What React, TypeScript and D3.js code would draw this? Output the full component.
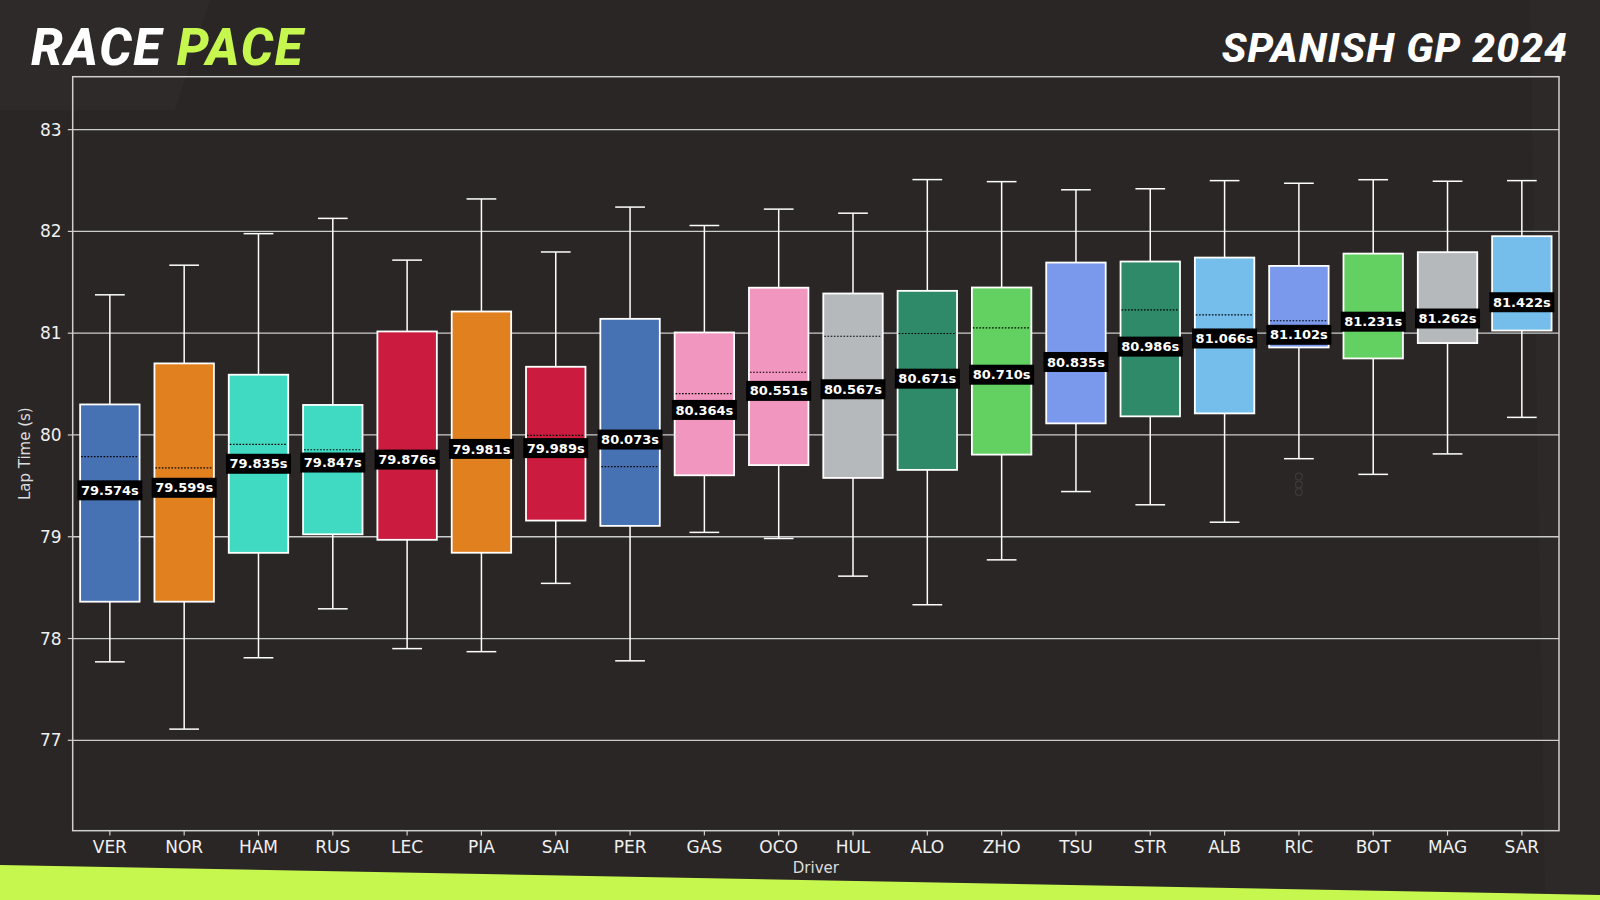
import * as d3 from "d3";

const W = 1600;
const H = 900;

const drivers = ["VER", "NOR", "HAM", "RUS", "LEC", "PIA", "SAI", "PER", "GAS", "OCO", "HUL", "ALO", "ZHO", "TSU", "STR", "ALB", "RIC", "BOT", "MAG", "SAR"];
const boxColors = ["#4672B4", "#E1801F", "#40DAC3", "#40DAC3", "#CB1C3F", "#E1801F", "#CB1C3F", "#4672B4", "#F196BF", "#F196BF", "#B6B9BC", "#2F8A69", "#62D162", "#7A98EC", "#2F8A69", "#75BEEC", "#7A98EC", "#62D162", "#B6B9BC", "#75BEEC"];
const whiskerHigh = [81.377, 81.668, 81.978, 82.128, 81.718, 82.319, 81.798, 82.239, 82.058, 82.219, 82.179, 82.509, 82.489, 82.409, 82.419, 82.499, 82.473, 82.508, 82.493, 82.499];
const q3 = [80.3, 80.703, 80.592, 80.295, 81.017, 81.213, 80.67, 81.141, 81.007, 81.447, 81.39, 81.416, 81.449, 81.694, 81.704, 81.743, 81.661, 81.782, 81.796, 81.953];
const medians = [79.787, 79.676, 79.908, 79.855, 79.78, 79.88, 79.996, 79.689, 80.406, 80.616, 80.97, 80.997, 81.053, 80.74, 81.23, 81.18, 81.122, 81.13, 81.16, 81.32];
const q1 = [78.362, 78.362, 78.842, 79.024, 78.97, 78.843, 79.159, 79.107, 79.604, 79.704, 79.578, 79.657, 79.807, 80.114, 80.183, 80.212, 80.86, 80.752, 80.903, 81.026];
const whiskerLow = [77.771, 77.11, 77.811, 78.292, 77.901, 77.871, 78.542, 77.781, 79.043, 78.983, 78.613, 78.332, 78.773, 79.444, 79.314, 79.143, 79.767, 79.613, 79.814, 80.173];
const paceLabels = [79.574, 79.599, 79.835, 79.847, 79.876, 79.981, 79.989, 80.073, 80.364, 80.551, 80.567, 80.671, 80.71, 80.835, 80.986, 81.066, 81.102, 81.231, 81.262, 81.422];
const ricFliers = [79.591, 79.513, 79.44];
const yTicks = [77, 78, 79, 80, 81, 82, 83];

const PLOT = { left: 72.7, right: 1559, top: 76.7, bottom: 830.7 };
const BG = "#2a2626";
const LIME = "#C6F74F";
const SPINE = "#cfcfcf";

export default function App() {
  const x = d3.scaleBand<string>().domain(drivers).range([PLOT.left, PLOT.right]).padding(0);
  const y = d3.scaleLinear().domain([76.112, 83.52]).range([PLOT.bottom, PLOT.top]);
  const step = x.bandwidth();
  const boxW = step * 0.8;
  const capW = boxW / 2;
  const cx = (d: string) => (x(d) ?? 0) + step / 2;

  const band = d3.line()([
    [0, 865],
    [W, 895],
    [W, H],
    [0, H],
  ]);

  return (
    <svg width={W} height={H} style={{ position: "absolute", left: 0, top: 0, display: "block" }}>
      <rect width={W} height={H} fill={BG} />
      {/* faint background shapes */}
      <path d="M0,0 L210,0 L175,110 L0,110 Z" fill="#ffffff" opacity={0.018} />
      <path d="M1530,0 L1600,0 L1600,900 L1545,900 Z" fill="#ffffff" opacity={0.015} />
      <path d={band ?? ""} fill={LIME} />

      {/* titles */}
      <text x={31} y={65} fontFamily="Roboto, 'Liberation Sans', sans-serif" fontStyle="italic" fontWeight={800} fontSize={51} letterSpacing={1.6} fill="#ffffff">
        RACE <tspan fill={LIME}>PACE</tspan>
      </text>
      <text x={1568} y={62} textAnchor="end" fontFamily="Roboto, 'Liberation Sans', sans-serif" fontStyle="italic" fontWeight={800} fontSize={41} letterSpacing={1} fill="#ffffff">
        SPANISH GP 2024
      </text>

      {/* grid */}
      {yTicks.map((t) => (
        <line key={`g${t}`} x1={PLOT.left} x2={PLOT.right} y1={y(t)} y2={y(t)} stroke="#cccccc" strokeWidth={1.3} />
      ))}

      {/* boxes */}
      {drivers.map((d, i) => {
        const c = cx(d);
        return (
          <g key={d}>
            <line x1={c} x2={c} y1={y(whiskerHigh[i])} y2={y(q3[i])} stroke="#ffffff" strokeWidth={1.5} />
            <line x1={c} x2={c} y1={y(q1[i])} y2={y(whiskerLow[i])} stroke="#ffffff" strokeWidth={1.5} />
            <line x1={c - capW / 2} x2={c + capW / 2} y1={y(whiskerHigh[i])} y2={y(whiskerHigh[i])} stroke="#ffffff" strokeWidth={1.5} />
            <line x1={c - capW / 2} x2={c + capW / 2} y1={y(whiskerLow[i])} y2={y(whiskerLow[i])} stroke="#ffffff" strokeWidth={1.5} />
            <rect x={c - boxW / 2} y={y(q3[i])} width={boxW} height={y(q1[i]) - y(q3[i])} fill={boxColors[i]} stroke="#ffffff" strokeWidth={1.8} />
            <line x1={c - boxW / 2 + 1} x2={c + boxW / 2 - 1} y1={y(medians[i])} y2={y(medians[i])} stroke="#000000" strokeWidth={1.2} strokeDasharray="1.6,1.6" />
          </g>
        );
      })}

      {/* RIC fliers */}
      {ricFliers.map((v, k) => (
        <circle key={`f${k}`} cx={cx("RIC")} cy={y(v)} r={3.4} fill="none" stroke="#3e3a3a" strokeWidth={1.2} />
      ))}

      {/* pace labels */}
      {drivers.map((d, i) => {
        const c = cx(d);
        const ly = y(paceLabels[i]) + 12;
        return (
          <g key={`l${d}`}>
            <rect x={c - 32.5} y={ly - 10} width={65} height={20} fill="#000000" />
            <text x={c} y={ly + 4.6} textAnchor="middle" fontFamily="'DejaVu Sans', sans-serif" fontWeight="bold" fontSize={13} fill="#ffffff">
              {paceLabels[i].toFixed(3)}s
            </text>
          </g>
        );
      })}

      {/* spines */}
      <rect x={PLOT.left} y={PLOT.top} width={PLOT.right - PLOT.left} height={PLOT.bottom - PLOT.top} fill="none" stroke={SPINE} strokeWidth={1.5} />

      {/* y axis */}
      {yTicks.map((t) => (
        <g key={`y${t}`}>
          <line x1={PLOT.left - 4.9} x2={PLOT.left} y1={y(t)} y2={y(t)} stroke={SPINE} strokeWidth={1.2} />
          <text x={PLOT.left - 11} y={y(t) + 6} textAnchor="end" fontFamily="'DejaVu Sans', sans-serif" fontSize={17} fill="#f0f0f0">
            {t}
          </text>
        </g>
      ))}

      {/* x axis */}
      {drivers.map((d) => (
        <g key={`x${d}`}>
          <line x1={cx(d)} x2={cx(d)} y1={PLOT.bottom} y2={PLOT.bottom + 4.9} stroke={SPINE} strokeWidth={1.2} />
          <text x={cx(d)} y={852.5} textAnchor="middle" fontFamily="'DejaVu Sans', sans-serif" fontSize={17} fill="#f0f0f0">
            {d}
          </text>
        </g>
      ))}

      <text x={(PLOT.left + PLOT.right) / 2} y={873} textAnchor="middle" fontFamily="'DejaVu Sans', sans-serif" fontSize={15} fill="#dddddd">
        Driver
      </text>
      <text transform={`translate(30,${(PLOT.top + PLOT.bottom) / 2}) rotate(-90)`} textAnchor="middle" fontFamily="'DejaVu Sans', sans-serif" fontSize={15} fill="#dddddd">
        Lap Time (s)
      </text>
    </svg>
  );
}
